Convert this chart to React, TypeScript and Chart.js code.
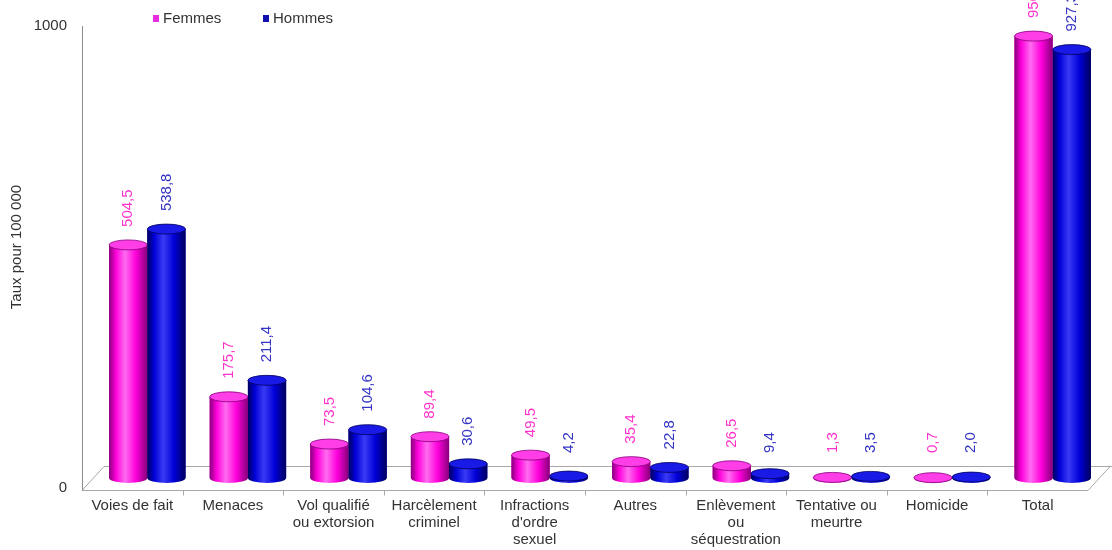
import React, { useEffect, useRef } from 'react';
import { Chart, registerables } from 'chart.js';

Chart.register(...registerables);

const FONT = "'Liberation Sans', Arial, sans-serif";

const categories: (string | string[])[] = [
  'Voies de fait',
  'Menaces',
  ['Vol qualifié', 'ou extorsion'],
  ['Harcèlement', 'criminel'],
  ['Infractions', "d'ordre", 'sexuel'],
  'Autres',
  ['Enlèvement', 'ou', 'séquestration'],
  ['Tentative ou', 'meurtre'],
  'Homicide',
  'Total',
];

const femmes = [504.5, 175.7, 73.5, 89.4, 49.5, 35.4, 26.5, 1.3, 0.7, 956.5];
const hommes = [538.8, 211.4, 104.6, 30.6, 4.2, 22.8, 9.4, 3.5, 2.0, 927.3];

const yTicks = [0, 1000];
const seriesNames = ['Femmes', 'Hommes'];
const yTitle = 'Taux pour 100 000';

const palettes = [
  { base: '#ff00dc', light: '#ff3ee8', dark: '#86007a', hi: '#ff6cf0', text: '#ff33cc', legend: '#e62ee0' },
  { base: '#0000d8', light: '#1a1ae6', dark: '#00005c', hi: '#3a3af5', text: '#3434c4', legend: '#1010b0' },
];

const fmt = (v: number) => v.toFixed(1).replace('.', ',');

const depthPlugin = {
  id: 'depth3d',
  beforeDatasetsDraw(chart: any) {
    const { ctx, chartArea, scales } = chart;
    const y0 = scales.y.getPixelForValue(0);
    const yTop = scales.y.getPixelForValue(1000);
    const L = chartArea.left - 15;
    const R = chartArea.right - 15;
    const fy = Math.round(y0 + 12) + 0.5;
    const by = Math.round(y0 - 12) + 0.5;
    const dx = 22;
    ctx.save();
    ctx.lineWidth = 1;
    ctx.strokeStyle = '#a8a8a8';
    ctx.beginPath();
    ctx.moveTo(L, fy);
    ctx.lineTo(R, fy);
    ctx.lineTo(R + dx, by);
    ctx.moveTo(L, fy);
    ctx.lineTo(L + dx, by);
    ctx.lineTo(R + dx + 10, by);
    ctx.stroke();
    const n = chart.data.labels.length;
    ctx.beginPath();
    for (let i = 1; i < n; i++) {
      const x = Math.round(L + (i * (R - L)) / n) + 0.5;
      ctx.moveTo(x, fy);
      ctx.lineTo(x, fy + 5);
    }
    ctx.stroke();
    ctx.strokeStyle = '#8c8c8c';
    ctx.beginPath();
    const ax = Math.round(L) + 0.5;
    ctx.moveTo(ax, yTop + 10);
    ctx.lineTo(ax, fy);
    ctx.stroke();
    ctx.restore();
  },
  afterDatasetsDraw(chart: any) {
    const { ctx } = chart;
    const ry = 5;
    ctx.save();
    const n = chart.data.labels.length;
    for (let i = 0; i < n; i++) {
      chart.data.datasets.forEach((_ds: any, di: number) => {
        const meta = chart.getDatasetMeta(di);
        const el = meta.data[i];
        if (!el) return;
        const pal = palettes[di];
        const { x, y, base, width } = el.getProps(['x', 'y', 'base', 'width'], true);
        const rx = width / 2;
        const left = x - rx;
        const right = x + rx;
        const g = ctx.createLinearGradient(left, 0, right, 0);
        g.addColorStop(0, pal.dark);
        g.addColorStop(0.18, pal.base);
        g.addColorStop(0.42, pal.hi);
        g.addColorStop(0.7, pal.base);
        g.addColorStop(1, pal.dark);
        ctx.fillStyle = g;
        ctx.beginPath();
        ctx.moveTo(left, y);
        ctx.lineTo(left, base);
        ctx.ellipse(x, base, rx, ry, 0, Math.PI, 0, true);
        ctx.lineTo(right, y);
        ctx.closePath();
        ctx.fill();
        ctx.beginPath();
        ctx.ellipse(x, y, rx, ry, 0, 0, Math.PI * 2);
        ctx.fillStyle = pal.light;
        ctx.fill();
        ctx.lineWidth = 0.8;
        ctx.strokeStyle = pal.dark;
        ctx.stroke();
      });
    }
    ctx.font = `15px ${FONT}`;
    ctx.textAlign = 'left';
    ctx.textBaseline = 'middle';
    chart.data.datasets.forEach((ds: any, di: number) => {
      const meta = chart.getDatasetMeta(di);
      meta.data.forEach((el: any, i: number) => {
        const { x, y, base } = el.getProps(['x', 'y', 'base'], true);
        const bottom = Math.min(y - 18, base - 25);
        ctx.save();
        ctx.translate(x, bottom);
        ctx.rotate(-Math.PI / 2);
        ctx.fillStyle = palettes[di].text;
        ctx.fillText(fmt(ds.data[i]), 0, 0);
        ctx.restore();
      });
    });
    ctx.restore();
  },
  afterDraw(chart: any) {
    const { ctx } = chart;
    ctx.save();
    ctx.font = `15px ${FONT}`;
    ctx.textAlign = 'left';
    ctx.textBaseline = 'middle';
    const xs = [153, 263];
    chart.data.datasets.forEach((ds: any, di: number) => {
      ctx.fillStyle = palettes[di].legend;
      ctx.fillRect(xs[di], 15, 6, 7);
      ctx.fillStyle = '#333';
      ctx.fillText(ds.label, xs[di] + 10, 19);
    });
    ctx.restore();
  },
};

export default function App() {
  const ref = useRef<HTMLCanvasElement>(null);
  useEffect(() => {
    if (!ref.current) return;
    const chart = new Chart(ref.current, {
      type: 'bar',
      data: {
        labels: categories,
        datasets: [
          {
            label: seriesNames[0],
            data: femmes,
            backgroundColor: palettes[0].base,
            categoryPercentage: 0.76,
            barPercentage: 1.0,
          },
          {
            label: seriesNames[1],
            data: hommes,
            backgroundColor: palettes[1].base,
            categoryPercentage: 0.76,
            barPercentage: 1.0,
          },
        ],
      },
      options: {
        animation: false,
        responsive: true,
        maintainAspectRatio: false,
        layout: { padding: { top: 16, right: 9, bottom: 0, left: 0 } },
        plugins: { legend: { display: false }, tooltip: { enabled: false } },
        scales: {
          x: {
            grid: { display: false, drawTicks: false },
            border: { display: false },
            ticks: {
              font: { size: 15, family: FONT, lineHeight: 1.15 },
              color: '#333',
              padding: 19,
              labelOffset: -15,
              maxRotation: 0,
              minRotation: 0,
              autoSkip: false,
            },
            afterFit: (s: any) => {
              s.height = 72;
            },
          },
          y: {
            min: 0,
            max: 1000,
            grid: { display: false, drawTicks: false },
            border: { display: false },
            ticks: {
              stepSize: 1000,
              font: { size: 15, family: FONT },
              color: '#333',
              padding: 30,
              labelOffset: 10,
              callback: (v: any) => String(v),
            },
            afterBuildTicks: (s: any) => {
              s.ticks = yTicks.map((v) => ({ value: v }));
            },
            afterFit: (s: any) => {
              s.width = 97;
              s.paddingTop = 0;
              s.paddingBottom = 0;
            },
            title: {
              display: true,
              text: yTitle,
              font: { size: 15, family: FONT },
              color: '#333',
              padding: { top: 8, bottom: 0 },
            },
          },
        },
      },
      plugins: [depthPlugin],
    });
    return () => chart.destroy();
  }, []);
  return (
    <div style={{ position: 'fixed', left: 0, top: 0, width: 1112, height: 550, background: '#fff' }}>
      <canvas ref={ref} />
    </div>
  );
}
